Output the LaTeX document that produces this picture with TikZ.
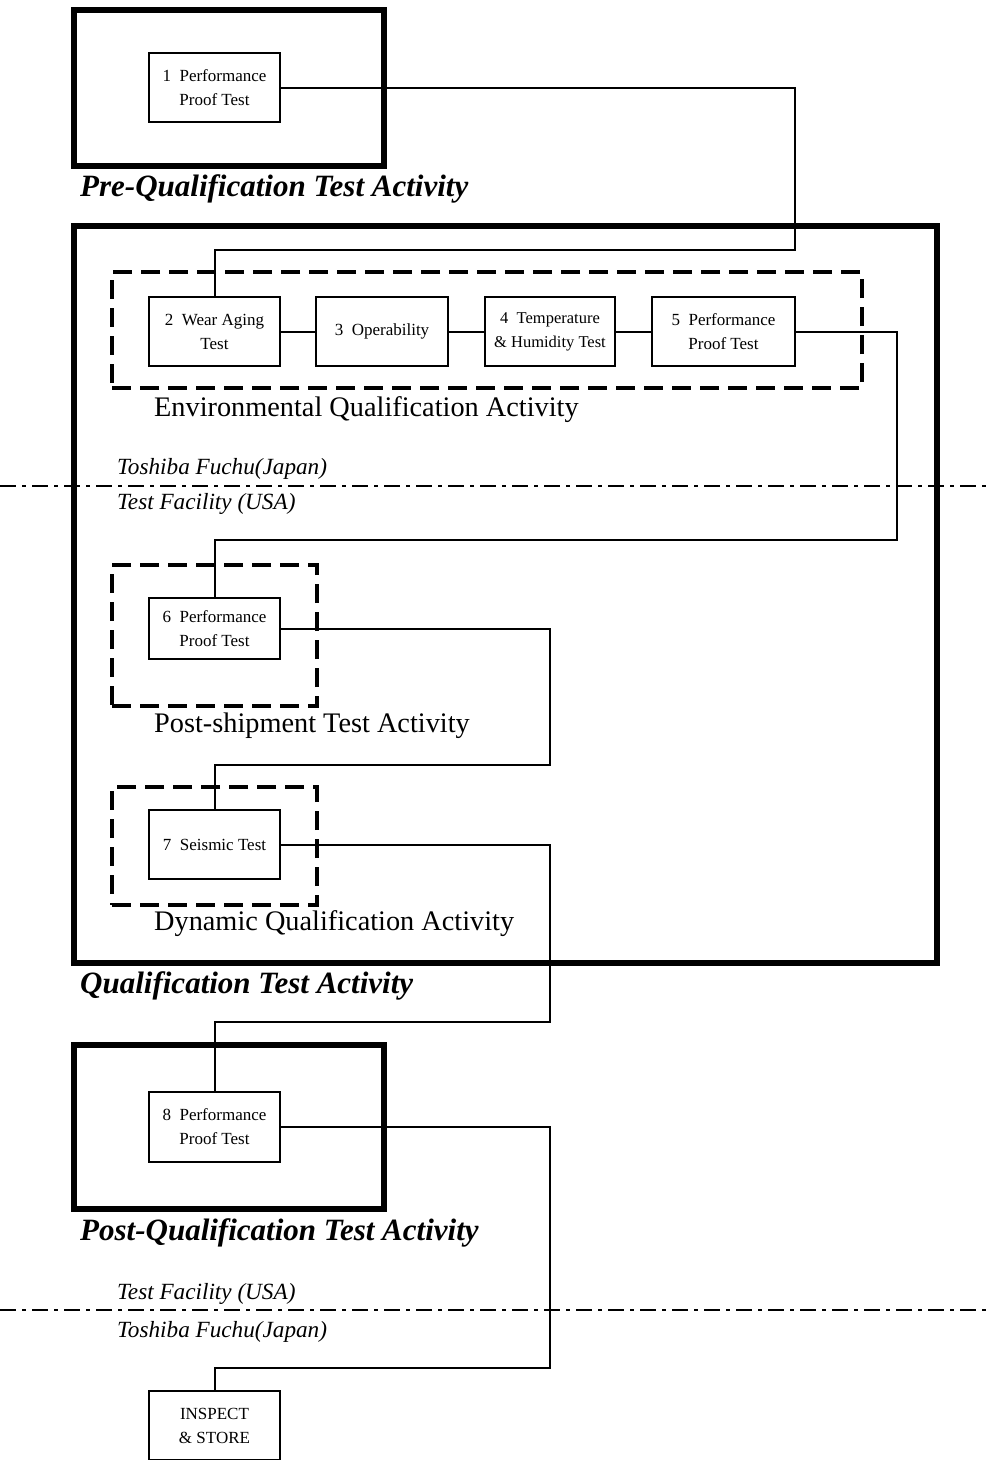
\documentclass[tikz,border=0pt]{standalone}
\usepackage{fontspec}
\setmainfont{Liberation Serif}
\begin{document}
\begin{tikzpicture}[x=1pt,y=-1pt,
  testbox/.style={draw,line width=2.2pt,fill=white,inner sep=0pt,align=center,
    font=\fontsize{17}{24}\selectfont},
  group/.style={draw,line width=6pt,inner sep=0pt},
  subgroup/.style={draw,line width=4pt,dash pattern=on 19pt off 9pt,inner sep=0pt},
  link/.style={line width=2pt},
  site/.style={line width=2.5pt,dash pattern=on 16pt off 6pt on 4pt off 6pt},
  grouplabel/.style={anchor=base west,inner sep=0pt,font=\fontsize{31}{35}\selectfont\bfseries\itshape},
  sublabel/.style={anchor=base west,inner sep=0pt,font=\fontsize{28.3}{32}\selectfont},
  sitelabel/.style={anchor=base west,inner sep=0pt,font=\fontsize{23.2}{26}\selectfont\itshape}]
\useasboundingbox (0,0) rectangle (989,1460);
\clip (0,0) rectangle (989,1460);

% activity frames
\node[group,minimum width=310pt,minimum height=156pt] (pre) at (229,88) {};
\node[group,minimum width=863pt,minimum height=737pt] (qual) at (505.5,594.5) {};
\node[group,minimum width=310pt,minimum height=164pt] (post) at (229,1127) {};

% sub-activity frames
\node[subgroup,minimum width=750pt,minimum height=116pt] (env) at (487,330) {};
\node[subgroup,minimum width=205pt,minimum height=141pt] (ship) at (214.5,635.5) {};
\node[subgroup,minimum width=205pt,minimum height=118pt] (dyn) at (214.5,846) {};

% site boundaries
\coordinate (s1a) at (0,486); \coordinate (s1b) at (989,486);
\coordinate (s2a) at (0,1310); \coordinate (s2b) at (989,1310);
\draw[site] (s1a) -- (s1b);
\draw[site] (s2a) -- (s2b);

% labels
\node[grouplabel] (lpre) at (80,196) {Pre-Qualification Test Activity};
\node[grouplabel] (lqual) at (80,993) {Qualification Test Activity};
\node[grouplabel] (lpost) at (80,1240) {Post-Qualification Test Activity};
\node[sublabel] (lenv) at (154,416) {Environmental Qualification Activity};
\node[sublabel] (lship) at (154,732) {Post-shipment Test Activity};
\node[sublabel] (ldyn) at (154,930) {Dynamic Qualification Activity};
\node[sitelabel] (j1a) at (117,474) {Toshiba Fuchu(Japan)};
\node[sitelabel] (u1a) at (117,509) {Test Facility (USA)};
\node[sitelabel] (u2a) at (117,1299) {Test Facility (USA)};
\node[sitelabel] (j2a) at (117,1337) {Toshiba Fuchu(Japan)};

% test steps
\node[testbox,minimum width=131pt,minimum height=69pt] (b1) at (214.5,87.5) {1\ \ Performance\\Proof Test};
\node[testbox,minimum width=131pt,minimum height=69pt] (b2) at (214.5,331.5) {2\ \ Wear Aging\\Test};
\node[testbox,minimum width=132pt,minimum height=69pt] (b3) at (382,331.5) {3\ \ Operability};
\node[testbox,minimum width=130pt,minimum height=69pt,font=\fontsize{16.5}{24}\selectfont] (b4) at (550,331.5) {4\ \ Temperature\\\& Humidity Test};
\node[testbox,minimum width=143pt,minimum height=69pt] (b5) at (723.5,331.5) {5\ \ Performance\\Proof Test};
\node[testbox,minimum width=131pt,minimum height=61pt] (b6) at (214.5,628.5) {6\ \ Performance\\Proof Test};
\node[testbox,minimum width=131pt,minimum height=69pt] (b7) at (214.5,844.5) {7\ \ Seismic Test};
\node[testbox,minimum width=131pt,minimum height=70pt] (b8) at (214.5,1127) {8\ \ Performance\\Proof Test};
\node[testbox,minimum width=131pt,minimum height=69pt] (b9) at (214.5,1425.5) {INSPECT\\\& STORE};

% flow connectors
\coordinate (k1) at (795,250);
\coordinate (k2) at (897,540);
\coordinate (k3) at (550,765);
\coordinate (k4) at (550,1022);
\coordinate (k5) at (550,1368);
\draw[link] (b1.east) -| (k1) -| (b2.north);
\draw[link] (b2.east) -- (b3.west);
\draw[link] (b3.east) -- (b4.west);
\draw[link] (b4.east) -- (b5.west);
\draw[link] (b5.east) -| (k2) -| (b6.north);
\draw[link] (b6.east) -| (k3) -| (b7.north);
\draw[link] (b7.east) -| (k4) -| (b8.north);
\draw[link] (b8.east) -| (k5) -| (b9.north);
\end{tikzpicture}
\end{document}
